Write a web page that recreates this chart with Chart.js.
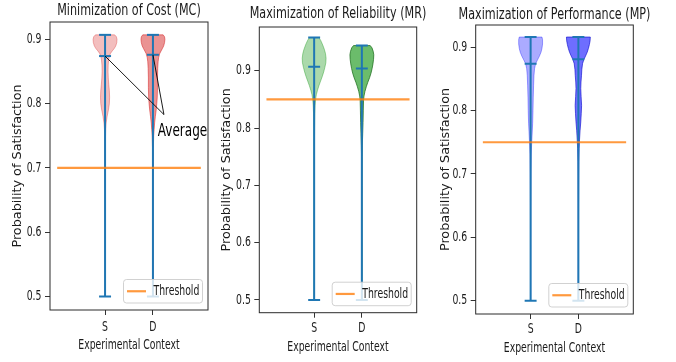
<!DOCTYPE html>
<html><head><meta charset="utf-8">
<script src="https://cdn.jsdelivr.net/npm/chart.js@4/dist/chart.umd.min.js"></script>
<style>
html,body{margin:0;padding:0;background:#fff;}
#wrap{position:relative;width:676px;height:362px;overflow:hidden;background:#fff;}
canvas{position:absolute;left:0;top:0;}
</style>
</head><body>
<div id="wrap">
<canvas id="c0" width="676" height="362"></canvas>
<canvas id="c1" width="676" height="362"></canvas>
<canvas id="c2" width="676" height="362"></canvas>
</div>
<script>
// ---------------- DATA ----------------
const categories = ['S', 'D'];
const positions = [1, 2];
const panelTitles = ['Minimization of Cost (MC)', 'Maximization of Reliability (MR)', 'Maximization of Performance (MP)'];
const yTickValues = [0.5, 0.6, 0.7, 0.8, 0.9];
const xLimits = [-0.15, 3.15];
const yLimitsMC = [0.479, 0.927];
const yLimitsMR = [0.4778, 0.9764];
const yLimitsMP = [0.479, 0.935];
const thresholdX = [0, 3];
const thresholds = [0.7, 0.85, 0.75];
const thresholdLabel = 'Threshold';
const xAxisTitle = 'Experimental Context';
const yAxisTitle = 'Probability of Satisfaction';

const mcMin = [0.5, 0.5];
const mcMax = [0.907, 0.907];
const mcMean = [0.874, 0.876];
const mrMin = [0.5, 0.5];
const mrMax = [0.958, 0.944];
const mrMean = [0.907, 0.904];
const mpMin = [0.5, 0.5];
const mpMax = [0.916, 0.916];
const mpMean = [0.874, 0.881];

// violin density profiles: [value, relative half-width]
const mcDensityS = [[0.907,0.80],[0.904,0.95],[0.900,1.0],[0.895,0.98],[0.890,0.9],[0.886,0.78],[0.882,0.6],[0.878,0.45],[0.874,0.36],[0.868,0.3],[0.860,0.26],[0.850,0.25],[0.840,0.27],[0.830,0.31],[0.820,0.36],[0.810,0.38],[0.800,0.36],[0.790,0.28],[0.780,0.17],[0.770,0.09],[0.760,0.05],[0.740,0.03],[0.700,0.018],[0.650,0.012],[0.600,0.008],[0.550,0.006],[0.500,0.004]];
const mcDensityD = [[0.907,0.85],[0.904,0.97],[0.900,1.0],[0.895,0.97],[0.890,0.9],[0.886,0.8],[0.882,0.68],[0.878,0.57],[0.872,0.48],[0.865,0.43],[0.855,0.4],[0.840,0.38],[0.825,0.38],[0.810,0.36],[0.800,0.32],[0.790,0.27],[0.780,0.2],[0.770,0.14],[0.760,0.1],[0.750,0.06],[0.730,0.035],[0.700,0.02],[0.650,0.012],[0.600,0.008],[0.550,0.006],[0.500,0.004]];
const mrDensityS = [[0.958,0.4],[0.953,0.55],[0.945,0.72],[0.937,0.86],[0.930,0.95],[0.922,1.0],[0.914,0.98],[0.906,0.9],[0.898,0.8],[0.890,0.68],[0.882,0.54],[0.874,0.4],[0.866,0.28],[0.858,0.18],[0.850,0.12],[0.840,0.08],[0.825,0.05],[0.800,0.035],[0.750,0.02],[0.700,0.014],[0.650,0.01],[0.600,0.008],[0.550,0.006],[0.500,0.004]];
const mrDensityD = [[0.944,0.7],[0.940,0.85],[0.934,0.95],[0.928,1.0],[0.920,0.98],[0.912,0.93],[0.904,0.86],[0.896,0.77],[0.888,0.65],[0.880,0.5],[0.872,0.37],[0.864,0.26],[0.856,0.18],[0.848,0.14],[0.830,0.12],[0.810,0.1],[0.790,0.07],[0.770,0.04],[0.750,0.025],[0.700,0.014],[0.650,0.01],[0.600,0.008],[0.550,0.006],[0.500,0.004]];
const mpDensityS = [[0.916,0.95],[0.912,1.0],[0.905,1.0],[0.898,0.95],[0.892,0.87],[0.886,0.74],[0.880,0.58],[0.874,0.42],[0.866,0.33],[0.855,0.28],[0.840,0.25],[0.820,0.22],[0.800,0.2],[0.780,0.17],[0.760,0.12],[0.745,0.08],[0.730,0.05],[0.700,0.03],[0.650,0.016],[0.600,0.01],[0.550,0.007],[0.500,0.004]];
const mpDensityD = [[0.916,1.0],[0.910,0.98],[0.904,0.92],[0.898,0.84],[0.892,0.74],[0.886,0.6],[0.880,0.45],[0.874,0.35],[0.865,0.29],[0.855,0.26],[0.845,0.22],[0.835,0.2],[0.822,0.23],[0.808,0.27],[0.795,0.24],[0.782,0.2],[0.768,0.14],[0.755,0.1],[0.740,0.06],[0.720,0.035],[0.700,0.025],[0.650,0.014],[0.600,0.01],[0.550,0.007],[0.500,0.004]];

const annotationText = 'Average';
const annotationTextPos = [2.1, 0.7565];
const annotationJoin = [2.23, 0.783];

// ---------------- STYLE ----------------
const FONT = "'DejaVu Sans',sans-serif";
const SQUEEZE = 0.67;          // horizontal squeeze of the reference's text
const TEXT = '#1a1a1a';
const BLUE = '#1f77b4';
const ORANGE = 'rgba(255,127,14,0.8)';
const VIOLIN_HALF = 0.25;
const CAP_HALF = 0.125;

const panelLayouts = [
  {left:50, right:208, top:22, bottom:310, yTitleX:18, xTitleY:345, xTickY:327, titleY:10.8},
  {left:259.3, right:416.7, top:27, bottom:312.7, yTitleX:227, xTitleY:347, xTickY:328, titleY:13.3},
  {left:475.7, right:633.3, top:25, bottom:314, yTitleX:446, xTitleY:348, xTickY:329, titleY:14.5}
];

function sqText(ctx, text, x, y, size, align) {
  ctx.font = size + 'px ' + FONT;
  ctx.textAlign = align;
  ctx.textBaseline = 'middle';
  const w = ctx.measureText(text).width;
  ctx.fillText(text, x, y, w * SQUEEZE);
}

const violinPlugin = {
  id: 'violins',
  beforeDatasetsDraw(chart) {
    const cfg = chart.options.plugins.violins;
    const {ctx, chartArea: ca} = chart;
    const xs = chart.scales.x, ys = chart.scales.y;
    ctx.save();
    ctx.beginPath(); ctx.rect(ca.left, ca.top, ca.right - ca.left, ca.bottom - ca.top); ctx.clip();
    cfg.densities.forEach((dens, i) => {
      const pos = positions[i];
      ctx.beginPath();
      dens.forEach(([v, w], k) => {
        const px = xs.getPixelForValue(pos - w * VIOLIN_HALF), py = ys.getPixelForValue(v);
        if (k === 0) ctx.moveTo(px, py); else ctx.lineTo(px, py);
      });
      for (let k = dens.length - 1; k >= 0; k--) {
        const [v, w] = dens[k];
        ctx.lineTo(xs.getPixelForValue(pos + w * VIOLIN_HALF), ys.getPixelForValue(v));
      }
      ctx.closePath();
      ctx.fillStyle = cfg.faces[i];
      ctx.fill();
      ctx.lineWidth = 1;
      ctx.lineJoin = 'round';
      ctx.strokeStyle = cfg.edges[i];
      ctx.stroke();
    });
    ctx.restore();
  },
  afterDatasetsDraw(chart) {
    const {ctx, chartArea: ca} = chart;
    ctx.save();
    ctx.strokeStyle = '#2b2b2b';
    ctx.lineWidth = 1;
    ctx.strokeRect(ca.left, ca.top, ca.right - ca.left, ca.bottom - ca.top);
    ctx.restore();
  },
  afterDraw(chart) {
    const cfg = chart.options.plugins.violins;
    const L = cfg.layout;
    const {ctx, chartArea: ca} = chart;
    const xs = chart.scales.x, ys = chart.scales.y;
    ctx.save();
    ctx.fillStyle = TEXT;
    // title
    sqText(ctx, cfg.title, (ca.left + ca.right) / 2, L.titleY, 16.7, 'center');
    // y tick labels
    ys.ticks.forEach(t => sqText(ctx, t.value.toFixed(1), ca.left - 8.5, ys.getPixelForValue(t.value), 13.9, 'right'));
    // x tick labels
    xs.ticks.forEach(t => sqText(ctx, categories[positions.indexOf(t.value)], xs.getPixelForValue(t.value), L.xTickY, 13.9, 'center'));
    // x axis title
    sqText(ctx, xAxisTitle, (ca.left + ca.right) / 2, L.xTitleY, 13.9, 'center');
    ctx.restore();

    // annotation
    if (cfg.annotation) {
      const a = cfg.annotation;
      const jx = xs.getPixelForValue(a.join[0]), jy = ys.getPixelForValue(a.join[1]);
      ctx.save();
      ctx.strokeStyle = '#000';
      ctx.lineWidth = 0.9;
      a.targets.forEach(([tx, ty]) => {
        ctx.beginPath();
        ctx.moveTo(xs.getPixelForValue(tx), ys.getPixelForValue(ty));
        ctx.lineTo(jx, jy);
        ctx.stroke();
      });
      ctx.fillStyle = '#000';
      sqText(ctx, a.text, xs.getPixelForValue(a.pos[0]), ys.getPixelForValue(a.pos[1]), 18, 'left');
      ctx.restore();
    }
    // legend (lower right, inside axes)
    const ds = chart.data.datasets[0];
    const w = 79, h = 23.5;
    const bx = ca.right - 5.5 - w, by = ca.bottom - 7 - h;
    ctx.save();
    ctx.beginPath();
    if (ctx.roundRect) ctx.roundRect(bx, by, w, h, 3); else ctx.rect(bx, by, w, h);
    ctx.fillStyle = 'rgba(255,255,255,0.8)';
    ctx.fill();
    ctx.strokeStyle = 'rgba(204,204,204,0.9)';
    ctx.lineWidth = 1;
    ctx.stroke();
    ctx.beginPath();
    ctx.strokeStyle = ds.borderColor;
    ctx.lineWidth = 2.2;
    ctx.moveTo(bx + 3.5, by + h / 2);
    ctx.lineTo(bx + 22.5, by + h / 2);
    ctx.stroke();
    ctx.fillStyle = TEXT;
    sqText(ctx, ds.label, bx + 30, by + h / 2 + 0.5, 13.9, 'left');
    ctx.restore();
  }
};

function lineDs(points, color, width, label) {
  return {label: label || '', data: points, showLine: true, borderColor: color, backgroundColor: color,
          borderWidth: width, pointRadius: 0, pointHoverRadius: 0, fill: false, tension: 0};
}

function makePanel(idx, mins, maxs, means, densities, yLim, faces, edges, annotation) {
  const L = panelLayouts[idx];
  const yTitleLH = 12.8 * 1.2;
  const padLeft = L.yTitleX - yTitleLH / 2;
  const yAxisWidth = L.left - padLeft;
  const padRight = 676 - L.right;
  const xAxisHeight = 362 - L.bottom;

  const datasets = [];
  datasets.push(lineDs(thresholdX.map(x => ({x, y: thresholds[idx]})), ORANGE, 2.2, thresholdLabel));
  positions.forEach((p, i) => {
    datasets.push(lineDs([{x: p, y: mins[i]}, {x: p, y: maxs[i]}], BLUE, 2));
    datasets.push(lineDs([{x: p - CAP_HALF, y: maxs[i]}, {x: p + CAP_HALF, y: maxs[i]}], BLUE, 2));
    datasets.push(lineDs([{x: p - CAP_HALF, y: mins[i]}, {x: p + CAP_HALF, y: mins[i]}], BLUE, 2));
    datasets.push(lineDs([{x: p - CAP_HALF, y: means[i]}, {x: p + CAP_HALF, y: means[i]}], BLUE, 2));
  });

  return new Chart(document.getElementById('c' + idx), {
    type: 'scatter',
    data: {datasets},
    plugins: [violinPlugin],
    options: {
      responsive: false,
      animation: false,
      devicePixelRatio: 1,
      layout: {padding: {left: padLeft, right: padRight, top: L.top, bottom: 0}},
      plugins: {
        legend: {display: false},
        tooltip: {enabled: false},
        title: {display: false},
        violins: {densities, faces, edges, annotation, layout: L, title: panelTitles[idx]}
      },
      scales: {
        x: {
          type: 'linear', min: xLimits[0], max: xLimits[1],
          afterBuildTicks: s => { s.ticks = positions.map(v => ({value: v})); },
          afterFit: s => { s.height = xAxisHeight; },
          ticks: {display: false},
          grid: {display: true, drawOnChartArea: false, drawTicks: true, tickLength: 5, tickColor: '#333', tickWidth: 1},
          border: {display: false},
          title: {display: false}
        },
        y: {
          type: 'linear', min: yLim[0], max: yLim[1],
          afterBuildTicks: s => { s.ticks = yTickValues.map(v => ({value: v})); },
          afterFit: s => { s.width = yAxisWidth; },
          ticks: {display: false},
          grid: {display: true, drawOnChartArea: false, drawTicks: true, tickLength: 5, tickColor: '#333', tickWidth: 1},
          border: {display: false},
          title: {display: true, text: yAxisTitle, color: TEXT, padding: 0,
                  font: {family: FONT, size: 12.8, lineHeight: 1.2}}
        }
      }
    }
  });
}

makePanel(0, mcMin, mcMax, mcMean, [mcDensityS, mcDensityD], yLimitsMC,
  ['rgba(214,39,40,0.3)', 'rgba(214,39,40,0.5)'], ['rgba(214,39,40,0.35)', 'rgba(214,39,40,0.55)'],
  {text: annotationText, pos: annotationTextPos, join: annotationJoin,
   targets: positions.map((p, i) => [p, mcMean[i]])});
makePanel(1, mrMin, mrMax, mrMean, [mrDensityS, mrDensityD], yLimitsMR,
  ['rgba(44,160,44,0.4)', 'rgba(44,160,44,0.7)'], ['rgba(44,160,44,0.45)', 'rgba(30,110,30,0.75)'], null);
makePanel(2, mpMin, mpMax, mpMean, [mpDensityS, mpDensityD], yLimitsMP,
  ['rgba(0,0,255,0.33)', 'rgba(0,0,255,0.57)'], ['rgba(0,0,255,0.35)', 'rgba(0,0,200,0.6)'], null);
</script>
</body></html>
